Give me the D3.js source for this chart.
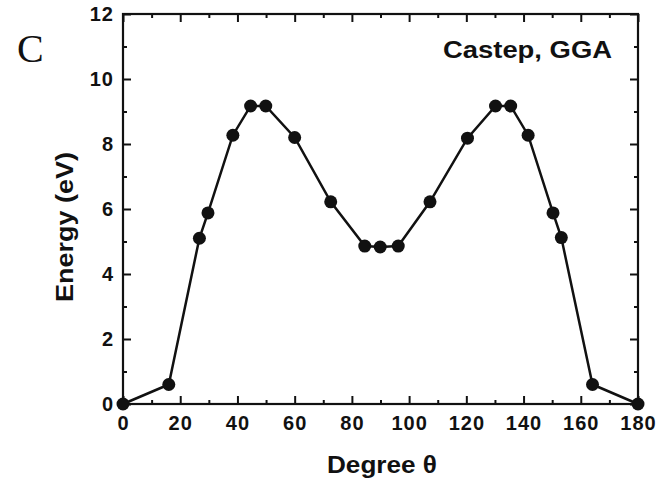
<!DOCTYPE html>
<html>
<head>
<meta charset="utf-8">
<script src="https://cdn.jsdelivr.net/npm/d3@7"></script>
<style>
  html, body { margin: 0; padding: 0; background: #fff; }
  svg { display: block; }
</style>
</head>
<body>
<svg id="chart" width="672" height="482"></svg>
<script>
// ---- data ----
const degrees = [0, 16, 26.7, 29.7, 38.4, 44.6, 49.9, 60, 72.6, 84.5, 89.9, 96.2, 107.3, 120.4, 130.2, 135.5, 141.6, 150.3, 153.2, 164.1, 180];
const energy  = [0, 0.6, 5.1, 5.88, 8.27, 9.17, 9.17, 8.2, 6.22, 4.86, 4.83, 4.86, 6.22, 8.18, 9.17, 9.17, 8.27, 5.88, 5.12, 0.6, 0];
const xMajorTicks = [0, 20, 40, 60, 80, 100, 120, 140, 160, 180];
const xMinorTicks = [10, 30, 50, 70, 90, 110, 130, 150, 170];
const yMajorTicks = [0, 2, 4, 6, 8, 10, 12];
const yMinorTicks = [1, 3, 5, 7, 9, 11];
const xLabel = "Degree θ";
const yLabel = "Energy (eV)";
const annotation = "Castep, GGA";
const panelLabel = "C";

// ---- layout ----
const L = 123, R = 638, T = 14, B = 404;
const SANS = "'Liberation Sans', Arial, Helvetica, sans-serif";
const SERIF = "'Liberation Serif', 'Times New Roman', serif";
const INK = "#111";
const svg = d3.select("#chart");
svg.append("rect").attr("width", 672).attr("height", 482).attr("fill", "#fff");

const x = d3.scaleLinear().domain([0, 180]).range([L, R]);
const y = d3.scaleLinear().domain([0, 12]).range([B, T]);

function styleAxis(g) {
  g.select(".domain").remove();
  g.selectAll(".tick line").attr("stroke", INK).attr("stroke-width", 2);
}
function styleTickText(g) {
  g.selectAll("text").style("font-family", SANS).style("font-size", "20px")
    .style("font-weight", "bold").style("letter-spacing", "1px").style("fill", INK);
}

// bottom axis with labels
svg.append("g").attr("transform", `translate(0,${B})`)
  .call(d3.axisBottom(x).tickValues(xMajorTicks).tickSizeInner(-8).tickSizeOuter(0).tickPadding(12).tickFormat(d3.format("d")))
  .call(styleAxis).call(styleTickText);
svg.append("g").attr("transform", `translate(0,${B})`)
  .call(d3.axisBottom(x).tickValues(xMinorTicks).tickSizeInner(-4).tickSizeOuter(0).tickFormat(""))
  .call(styleAxis);

// top axis (ticks only)
svg.append("g").attr("transform", `translate(0,${T})`)
  .call(d3.axisTop(x).tickValues(xMajorTicks).tickSizeInner(-8).tickSizeOuter(0).tickFormat(""))
  .call(styleAxis);
svg.append("g").attr("transform", `translate(0,${T})`)
  .call(d3.axisTop(x).tickValues(xMinorTicks).tickSizeInner(-4).tickSizeOuter(0).tickFormat(""))
  .call(styleAxis);

// left axis with labels
svg.append("g").attr("transform", `translate(${L},0)`)
  .call(d3.axisLeft(y).tickValues(yMajorTicks).tickSizeInner(-8).tickSizeOuter(0).tickPadding(9).tickFormat(d3.format("d")))
  .call(styleAxis).call(styleTickText);
svg.append("g").attr("transform", `translate(${L},0)`)
  .call(d3.axisLeft(y).tickValues(yMinorTicks).tickSizeInner(-4).tickSizeOuter(0).tickFormat(""))
  .call(styleAxis);

// right axis (ticks only)
svg.append("g").attr("transform", `translate(${R},0)`)
  .call(d3.axisRight(y).tickValues(yMajorTicks).tickSizeInner(-8).tickSizeOuter(0).tickFormat(""))
  .call(styleAxis);
svg.append("g").attr("transform", `translate(${R},0)`)
  .call(d3.axisRight(y).tickValues(yMinorTicks).tickSizeInner(-4).tickSizeOuter(0).tickFormat(""))
  .call(styleAxis);

// frame
svg.append("rect").attr("x", L).attr("y", T).attr("width", R - L).attr("height", B - T)
  .attr("fill", "none").attr("stroke", INK).attr("stroke-width", 2.2);

// line + markers
const pts = degrees.map((d, i) => ({ d, e: energy[i] }));
svg.append("path").datum(pts)
  .attr("fill", "none").attr("stroke", INK).attr("stroke-width", 2.5)
  .attr("d", d3.line().x(p => x(p.d)).y(p => y(p.e)));
svg.append("g").selectAll("circle").data(pts).join("circle")
  .attr("cx", p => x(p.d)).attr("cy", p => y(p.e)).attr("r", 6.5).attr("fill", INK);

// labels
svg.append("text").attr("x", 327).attr("y", 473)
  .attr("textLength", 110).attr("lengthAdjust", "spacingAndGlyphs")
  .style("font-family", SANS).style("font-size", "23px").style("font-weight", "bold").style("fill", INK)
  .text(xLabel);
svg.append("text").attr("transform", `translate(73,302) rotate(-90)`)
  .attr("textLength", 150).attr("lengthAdjust", "spacingAndGlyphs")
  .style("font-family", SANS).style("font-size", "23px").style("font-weight", "bold").style("fill", INK)
  .text(yLabel);
svg.append("text").attr("x", 443).attr("y", 58)
  .attr("textLength", 169).attr("lengthAdjust", "spacingAndGlyphs")
  .style("font-family", SANS).style("font-size", "23px").style("font-weight", "bold").style("fill", INK)
  .text(annotation);
svg.append("text").attr("x", 17).attr("y", 62)
  .style("font-family", SERIF).style("font-size", "40px").style("fill", INK)
  .text(panelLabel);
</script>
</body>
</html>
